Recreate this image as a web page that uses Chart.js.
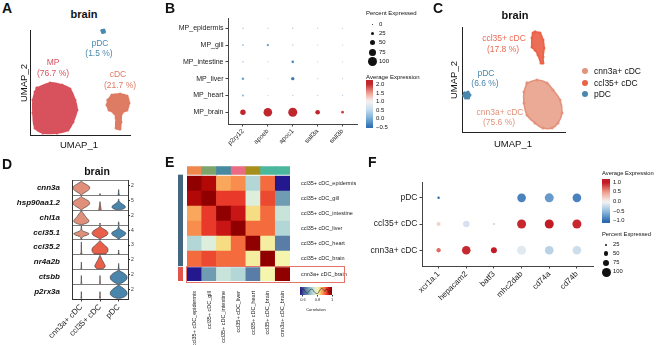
<!DOCTYPE html>
<html><head><meta charset="utf-8">
<script src="https://cdn.jsdelivr.net/npm/chart.js@4.4.1/dist/chart.umd.min.js"></script>
<style>
html,body{margin:0;padding:0;background:#fff;}
#root{position:relative;width:657px;height:345px;overflow:hidden;font-family:"Liberation Sans",Arial,Helvetica,sans-serif;color:#111;background:#fff;}
canvas{position:absolute;}
.t{position:absolute;white-space:nowrap;line-height:1;}
.box{position:absolute;box-sizing:border-box;}
</style></head><body><div id="root"></div>
<script>
// ================= DATA =================
// Panel A (UMAP, brain): cluster outlines in UMAP units
const A_MP = [[-4.6,1.4],[-2.0,2.4],[0.4,2.0],[2.0,1.2],[3.0,-1.0],[3.4,-3.0],[2.6,-5.4],[1.6,-7.0],[-0.6,-7.6],[-3.4,-7.6],[-5.0,-6.6],[-5.4,-3.6],[-5.4,-1.0],[-5.0,0.6]];
const A_CDC = [[9.6,-1.0],[10.4,0.0],[12.0,0.2],[13.4,-0.2],[13.8,-1.6],[13.4,-3.0],[12.4,-3.6],[12.2,-5.4],[12.0,-6.8],[11.2,-6.6],[11.2,-4.6],[10.8,-3.6],[9.8,-3.0],[9.4,-2.0]];
const A_PDC = [[8.4,12.9],[8.8,13.0],[8.9,12.6],[8.5,12.5]];
const A_LABELS = [['MP','(76.7 %)'],['pDC','(1.5 %)'],['cDC','(21.7 %)']];

// Panel B (dot plot)
const B_ROWS = ['MP_epidermis','MP_gill','MP_intestine','MP_liver','MP_heart','MP_brain'];
const B_GENES = ['p2ry12','apoeb','apoc1','sall3a','sall3b'];
const B_PCT = [
  [8,5,6,4,3],
  [10,15,8,4,3],
  [8,6,20,4,3],
  [18,4,30,4,3],
  [14,4,6,4,3],
  [55,95,100,45,22]
];
const B_AVG = [
  [0.3,0.4,0.3,0.4,0.4],
  [0.2,-0.2,0.4,0.4,0.4],
  [0.3,0.5,-0.3,0.4,0.4],
  [-0.1,0.6,-0.4,0.4,0.4],
  [0.1,0.5,0.4,0.4,0.4],
  [2.0,2.0,2.0,2.0,1.9]
];
const B_PCT_BREAKS = [0,25,50,75,100];
const B_AVG_BREAKS = [2.0,1.5,1.0,0.5,0.0,-0.5];

// Panel C (UMAP, brain cDC/pDC)
const C_CCL = [[14.6,20.0],[15.6,19.8],[16.2,18.4],[16.4,16.8],[16.2,15.0],[16.2,13.8],[15.8,13.8],[15.2,15.4],[14.6,16.4],[14.0,17.0],[14.0,18.8],[14.2,19.8]];
const C_CNN = [[13.0,9.8],[15.0,10.4],[17.0,9.8],[18.2,8.4],[19.6,6.4],[20.0,3.8],[19.2,1.8],[18.0,0.8],[16.2,0.8],[14.6,1.8],[13.0,3.4],[12.4,5.8],[12.4,8.0]];
const C_PDC = [[0.5,7.8],[1.2,8.0],[1.6,7.4],[1.3,6.8],[0.7,6.8],[0.3,7.3]];
const C_CLUSTERS = ['cnn3a+ cDC','ccl35+ cDC','pDC'];

// Panel D (stacked violins): half-widths at 11 heights (bottom->top) per gene x cluster
const D_GENES = ['cnn3a','hsp90aa1.2','chl1a','ccl35.1','ccl35.2','nr4a2b','ctsbb','p2rx3a'];
const D_MAX = [2,5,2,4,3,2,2,2];
const D_W = [
  [[0.02,0.10,0.22,0.33,0.41,0.45,0.44,0.36,0.24,0.12,0.02],[0.03,0],[0.04,0.02,0.012,0.008,0]],
  [[0.03,0.12,0.25,0.36,0.43,0.45,0.42,0.33,0.20,0.08,0.01],[0.07,0.05,0.04,0.03,0.02,0.01,0],[0.14,0.32,0.36,0.32,0.22,0.12,0.05,0.01,0]],
  [[0.10,0.30,0.40,0.40,0.35,0.28,0.22,0.17,0.12,0.07,0.02],[0.03,0],[0.03,0.01,0]],
  [[0.02,0.03,0.10,0.30,0.42,0.30,0.10,0.03,0.02,0.01,0],[0.02,0.10,0.25,0.37,0.42,0.42,0.37,0.27,0.15,0.05,0.01],[0.02,0.08,0.20,0.32,0.38,0.36,0.25,0.12,0.05,0.02,0]],
  [[0.04,0.02,0.015,0.01,0.01,0.008,0.006,0.004,0.002,0],[0.30,0.38,0.42,0.43,0.42,0.38,0.30,0.22,0.14,0.06,0.01],[0.03,0.01,0.005,0]],
  [[0.03,0.015,0.01,0.008,0.005,0],[0.15,0.25,0.28,0.26,0.22,0.18,0.14,0.10,0.07,0.04,0.01],[0.03,0.015,0.01,0.005,0]],
  [[0.03,0.015,0.01,0.008,0.006,0.004,0],[0.03,0.015,0.01,0.008,0.006,0.004,0],[0.10,0.25,0.35,0.42,0.45,0.45,0.42,0.35,0.25,0.12,0.02]],
  [[0.03,0.015,0.01,0.008,0.005,0],[0.03,0.015,0.01,0.008,0.005,0],[0.10,0.30,0.40,0.45,0.45,0.43,0.38,0.30,0.20,0.10,0.02]]
];

// Panel E (correlation heatmap)
const E_NAMES = ['ccl35+ cDC_epidermis','ccl35+ cDC_gill','ccl35+ cDC_intestine','ccl35+ cDC_liver','ccl35+ cDC_heart','ccl35+ cDC_brain','cnn3a+ cDC_brain'];
const E_CORR = [
  [1.00,0.97,0.86,0.88,0.73,0.90,0.56],
  [0.97,1.00,0.93,0.93,0.77,0.92,0.67],
  [0.86,0.93,1.00,0.95,0.83,0.90,0.75],
  [0.88,0.93,0.95,1.00,0.90,0.90,0.73],
  [0.73,0.77,0.83,0.90,1.00,0.81,0.64],
  [0.90,0.92,0.90,0.90,0.81,1.00,0.80],
  [0.56,0.67,0.75,0.73,0.64,0.80,1.00]
];
const E_TISSUE_COL = ['#f0884e','#7da46a','#458a9e','#ea6b82','#a6901b','#4bb79d','#4bb79d'];
const E_CELLTYPE_COL = ['#44667f','#44667f','#44667f','#44667f','#44667f','#44667f','#e0544b'];
const E_DENS_X = [0.56,0.60,0.63,0.66,0.70,0.73,0.76,0.80,0.83,0.86,0.90,0.93,0.96,1.00];
const E_DENS_Y = [1.0,3.5,2.0,1.0,3.0,3.2,1.5,0.8,2.5,3.8,2.2,3.5,1.5,2.5];
const E_BREAKS = [0.6,0.8,1];

// Panel F (dot plot)
const F_ROWS = ['pDC','ccl35+ cDC','cnn3a+ cDC'];
const F_GENES = ['xcr1a.1','hepacam2','batf3','mhc2dab','cd74a','cd74b'];
const F_PCT = [
  [27,10,10,96,100,96],
  [45,73,22,100,100,100],
  [48,95,66,100,96,96]
];
const F_AVG = [
  [-1.0,-0.2,-0.2,-0.85,-0.7,-0.85],
  [0.2,-0.15,-0.3,0.95,1.0,0.95],
  [0.7,0.95,1.0,-0.1,-0.3,-0.2]
];
const F_PCT_BREAKS = [25,50,75,100];
const F_AVG_BREAKS = [1.0,0.5,0.0,-0.5,-1.0];

// ================= HELPERS =================
const B_PAL = [[-0.5,'#2f6db2'],[0,'#79afd6'],[0.5,'#c5dcee'],[1.0,'#f7f3f3'],[1.5,'#f0998a'],[2.0,'#c0272d']];
const F_PAL = [[-1,'#2c6ab0'],[-0.5,'#8fbadd'],[0,'#f5f5f5'],[0.5,'#f0a08e'],[1.0,'#c21b24']];
const E_PAL = [[0.56,'#24188f'],[0.64,'#5a7da8'],[0.67,'#6f9bb3'],[0.73,'#b2d7d6'],[0.77,'#ddeedd'],[0.80,'#f5f5ad'],[0.83,'#f6dc82'],[0.86,'#f9a75c'],[0.88,'#f98d4d'],[0.90,'#f46b3d'],[0.93,'#e8392a'],[0.95,'#c81616'],[0.97,'#b30808'],[1.0,'#900000']];
function h2r(h){h=h.replace('#','');return [0,2,4].map(i=>parseInt(h.substr(i,2),16));}
function pal(st,v){
  if(v<=st[0][0]) return st[0][1];
  if(v>=st[st.length-1][0]) return st[st.length-1][1];
  for(let i=0;i<st.length-1;i++){
    if(v>=st[i][0]&&v<=st[i+1][0]){
      const t=(v-st[i][0])/(st[i+1][0]-st[i][0]);const a=h2r(st[i][1]),b=h2r(st[i+1][1]);
      return 'rgb('+a.map((x,k)=>Math.round(x+(b[k]-x)*t)).join(',')+')';
    }
  }
}
function grad(st,v0,v1,dir){const p=[];const N=24;for(let i=0;i<=N;i++){const v=v0+(v1-v0)*i/N;p.push(pal(st,v)+' '+(i*100/N).toFixed(2)+'%');}return 'linear-gradient('+dir+','+p.join(',')+')';}
const rB = p => 0.5 + 4.0*p/100;
const rF = p => 4.5*p/100;

const root=document.getElementById('root');
function txt(s,x,y,o={}){
  const d=document.createElement('div');d.className='t';d.textContent=s;
  d.style.fontSize=(o.size||8)+'px';
  if(o.bold)d.style.fontWeight='bold';
  if(o.italic)d.style.fontStyle='italic';
  d.style.color=o.color||'#111';
  d.style.left=x+'px';d.style.top=y+'px';
  const ax=o.anchor==='left'?'0%':(o.anchor==='right'?'-100%':'-50%');
  let tr='translate('+ax+',-50%)';
  if(o.rot)tr+=' rotate('+o.rot+'deg)';
  d.style.transform=tr;root.appendChild(d);return d;
}
function box(x,y,w,h,css){const d=document.createElement('div');d.className='box';d.style.left=x+'px';d.style.top=y+'px';d.style.width=w+'px';d.style.height=h+'px';Object.assign(d.style,css||{});root.appendChild(d);return d;}
function mk(x,y,w,h){const c=document.createElement('canvas');c.width=w;c.height=h;c.style.left=x+'px';c.style.top=y+'px';c.style.width=w+'px';c.style.height=h+'px';root.appendChild(c);return c.getContext('2d');}
Chart.defaults.font.family='"Liberation Sans", Arial, Helvetica, sans-serif';
Chart.defaults.color='#222';
const BASE={responsive:false,animation:false,devicePixelRatio:1,events:[],plugins:{legend:{display:false},tooltip:{enabled:false}}};
const pts=a=>a.map(p=>({x:p[0],y:p[1]}));
const closed=a=>{const q=pts(a);q.push(q[0]);return q;};
function hull(a,col,fillCol){return {data:closed(a),showLine:true,fill:'shape',backgroundColor:fillCol||col,borderColor:col,borderWidth:1.6,tension:0.35,pointRadius:1.5,pointBackgroundColor:col,pointBorderWidth:0,clip:false};}
function umap(ctx,xr,yr,ds){
  return new Chart(ctx,{type:'scatter',data:{datasets:ds},options:Object.assign({},BASE,{layout:{padding:6},scales:{
    x:{type:'linear',min:xr[0],max:xr[1],ticks:{display:false},grid:{display:false},border:{display:true,color:'#222',width:1},afterFit:s=>{s.height=0;}},
    y:{type:'linear',min:yr[0],max:yr[1],ticks:{display:false},grid:{display:false},border:{display:true,color:'#222',width:1},afterFit:s=>{s.width=0;}}
  }})});
}

// ================= PANEL A =================
umap(mk(24,24,112,117),[-6,14],[-8,13],[
  hull(A_MP,'#d8525e'),hull(A_CDC,'#dd7b63'),hull(A_PDC,'#4a8ab0')
]);
txt('A',2,8,{size:14,bold:true,anchor:'left'});
txt('brain',84,14,{size:11,bold:true});
txt('UMAP_2',24,83,{size:9.5,rot:-90});
txt('UMAP_1',79,145,{size:9.5});
txt(A_LABELS[0][0],53,62,{size:8.5,color:'#d8525e'});txt(A_LABELS[0][1],53,73,{size:8.5,color:'#d8525e'});
txt(A_LABELS[1][0],100,43,{size:8.5,color:'#4a8ab0'});txt(A_LABELS[1][1],99,53,{size:8.5,color:'#4a8ab0'});
txt(A_LABELS[2][0],118,74,{size:8.5,color:'#dd7b63'});txt(A_LABELS[2][1],120,85,{size:8.5,color:'#dd7b63'});

// ================= PANEL B =================
function dotplot(ctx,rows,genes,pct,avg,rf,palSt,o){
  const n=rows.length;const data=[],cols=[];
  rows.forEach((r,i)=>genes.forEach((g,j)=>{data.push({x:j,y:n-1-i,r:rf(pct[i][j])});cols.push(pal(palSt,avg[i][j]));}));
  return new Chart(ctx,{type:'bubble',data:{datasets:[{data,backgroundColor:cols,borderWidth:0,clip:false}]},options:Object.assign({},BASE,{layout:{padding:o.pad},scales:{
    x:{type:'linear',min:-0.6,max:genes.length-0.4,afterBuildTicks:s=>{s.ticks=genes.map((g,i)=>({value:i}));},
      ticks:{callback:v=>genes[v],autoSkip:false,minRotation:45,maxRotation:45,font:{size:o.xf},color:'#222',padding:1},
      grid:{display:true,drawOnChartArea:false,drawTicks:true,tickLength:2.5,color:'#444'},border:{display:true,color:'#444',width:1},afterFit:s=>{s.height=o.xh;}},
    y:{type:'linear',min:o.ymin,max:o.ymax,afterBuildTicks:s=>{s.ticks=rows.map((r,i)=>({value:i}));},
      ticks:{callback:v=>rows[n-1-v],autoSkip:false,font:{size:o.yf},color:'#222',padding:2},
      grid:{display:true,drawOnChartArea:false,drawTicks:true,tickLength:2.5,color:'#444'},border:{display:true,color:'#444',width:1},afterFit:s=>{s.width=o.yw;}}
  }})});
}
dotplot(mk(140,12,222,140),B_ROWS,B_GENES,B_PCT,B_AVG,rB,B_PAL,{pad:{top:5,right:4,left:0,bottom:0},xf:6.5,xh:28,yf:7,yw:88,ymin:-0.7,ymax:5.6});
txt('B',165,8,{size:14,bold:true,anchor:'left'});
txt('Percent Expressed',366,13,{size:6,anchor:'left'});
[24,33,42,52,61].forEach((y,i)=>{const r=rB(B_PCT_BREAKS[i]);box(372-r,y-r,2*r,2*r,{background:'#111',borderRadius:'50%'});txt(String(B_PCT_BREAKS[i]),379,y,{size:6,anchor:'left'});});
txt('Average Expression',366,77,{size:6,anchor:'left'});
box(366,80,7,48,{background:grad(B_PAL,2.23,-0.56,'to bottom')});
B_AVG_BREAKS.forEach(v=>txt(v<0?'\u2212'+Math.abs(v).toFixed(1):v.toFixed(1),376,84+(2-v)*17.2,{size:6,anchor:'left'}));

// ================= PANEL C =================
umap(mk(456,21,115,117),[0,20.6],[0,21],[
  hull(C_CNN,'#e3937b','rgba(230,155,130,0.85)'),hull(C_CCL,'#ea6248','rgba(234,98,72,0.92)'),hull(C_PDC,'#4a86ad')
]);
txt('C',433,8,{size:14,bold:true,anchor:'left'});
txt('brain',515,15,{size:11,bold:true});
txt('UMAP_2',454,80,{size:9.5,rot:-90});
txt('UMAP_1',513,144,{size:9.5});
txt(C_CLUSTERS[1],504,38,{size:8.5,color:'#ea6a52'});txt('(17.8 %)',503,49,{size:8.5,color:'#ea6a52'});
txt(C_CLUSTERS[2],486,73,{size:8.5,color:'#4a86ad'});txt('(6.6 %)',485,83,{size:8.5,color:'#4a86ad'});
txt(C_CLUSTERS[0],500,112,{size:8.5,color:'#e3937b'});txt('(75.6 %)',499,122,{size:8.5,color:'#e3937b'});
const C_COLS=['#e3937b','#ea6248','#4a86ad'];
[71,82.5,94].forEach((y,i)=>{box(582,y-3,6,6,{background:C_COLS[i],borderRadius:'50%'});txt(C_CLUSTERS[i],594,y,{size:8.5,anchor:'left'});});

// ================= PANEL D =================
const D_COLS=['#e0907a','#e8604a','#4a85ac'];
function violin(c,rowTop,w){
  let last=w.length-1;while(last>0&&w[last]===0)last--;
  const n=Math.min(last+1,w.length-1);const yb=D_GENES.length-1-rowTop;const p=[];
  for(let k=0;k<=n;k++)p.push({x:c+w[k],y:yb+0.05+0.9*k/10});
  for(let k=n;k>=0;k--)p.push({x:c-w[k],y:yb+0.05+0.9*k/10});
  p.push(p[0]);return p;
}
const dDs=[];
D_W.forEach((row,r)=>row.forEach((w,c)=>dDs.push({data:violin(c+1,r,w),showLine:true,fill:'shape',backgroundColor:D_COLS[c],borderColor:'#333',borderWidth:0.6,pointRadius:0,tension:0.25})));
const NG=D_GENES.length;
new Chart(mk(0,172,145,173),{type:'scatter',data:{datasets:dDs},options:Object.assign({},BASE,{layout:{padding:{top:5,left:0,right:0,bottom:0}},scales:{
  x:{type:'linear',min:0.5,max:3.5,afterBuildTicks:s=>{s.ticks=C_CLUSTERS.map((g,i)=>({value:i+1}));},
    ticks:{callback:v=>C_CLUSTERS[v-1],autoSkip:false,minRotation:45,maxRotation:45,font:{size:8},color:'#222',padding:1},
    grid:{display:true,drawOnChartArea:false,drawTicks:true,tickLength:2.5,color:'#333'},border:{display:true,color:'#333',width:1},afterFit:s=>{s.height=46;}},
  y:{type:'linear',position:'left',min:0,max:NG,afterBuildTicks:s=>{s.ticks=D_GENES.map((g,i)=>({value:NG-1-i+0.5}));},
    ticks:{callback:(v,i)=>D_GENES[i],autoSkip:false,font:{size:8,weight:'bold',style:'italic'},color:'#111',padding:4},
    grid:{display:false},border:{display:true,color:'#333',width:1},afterFit:s=>{s.width=72;}},
  ysep:{type:'linear',position:'left',min:0,max:NG,afterBuildTicks:s=>{const t=[];for(let i=0;i<=NG;i++)t.push({value:i});s.ticks=t;},
    ticks:{display:false},grid:{display:true,drawOnChartArea:true,drawTicks:false,color:'#444',lineWidth:0.7},border:{display:false},afterFit:s=>{s.width=0;}},
  y2:{type:'linear',position:'right',min:0,max:NG,afterBuildTicks:s=>{s.ticks=D_GENES.map((g,i)=>({value:NG-1-i+0.65}));},
    ticks:{callback:(v,i)=>String(D_MAX[i]),autoSkip:false,font:{size:5},color:'#333',padding:1},
    grid:{display:true,drawOnChartArea:false,drawTicks:true,tickLength:2,color:'#333'},border:{display:true,color:'#333',width:1},afterFit:s=>{s.width=17;}}
}})});
txt('D',2,164,{size:14,bold:true,anchor:'left'});
txt('brain',97,171,{size:10.5,bold:true});

// ================= PANEL E =================
const EMAX=7.66;
const hDs=[];
const bopt={borderWidth:0,barPercentage:1,categoryPercentage:1,stack:'s'};
hDs.push(Object.assign({data:E_NAMES.map(()=>0.9),backgroundColor:E_CORR[6].map(v=>pal(E_PAL,v))},bopt));
hDs.push(Object.assign({data:E_NAMES.map(()=>0.1),backgroundColor:'rgba(0,0,0,0)'},bopt));
for(let i=5;i>=0;i--)hDs.push(Object.assign({data:E_NAMES.map(()=>1),backgroundColor:E_CORR[i].map(v=>pal(E_PAL,v))},bopt));
hDs.push(Object.assign({data:E_NAMES.map(()=>0.11),backgroundColor:'rgba(0,0,0,0)'},bopt));
hDs.push(Object.assign({data:E_NAMES.map(()=>0.55),backgroundColor:E_TISSUE_COL},bopt));
const E_POS=[6.5,5.5,4.5,3.5,2.5,1.5,0.45];
new Chart(mk(185,160,172,185),{type:'bar',data:{labels:E_NAMES,datasets:hDs},options:Object.assign({},BASE,{layout:{padding:{left:2,top:5,right:0,bottom:0}},scales:{
  x:{stacked:true,grid:{display:false},border:{display:false},ticks:{autoSkip:false,minRotation:90,maxRotation:90,font:{size:5.5},color:'#222',padding:2},afterFit:s=>{s.height=64;}},
  y:{stacked:true,display:false,min:0,max:EMAX},
  y2:{type:'linear',position:'right',min:0,max:EMAX,afterBuildTicks:s=>{s.ticks=E_POS.map(v=>({value:v}));},
    ticks:{callback:(v,i)=>E_NAMES[i],autoSkip:false,font:{size:5.5},color:'#222',padding:3},grid:{display:false},border:{display:false},afterFit:s=>{s.width=67;}}
}})});
// row annotation (cell type)
const aDs=[
  Object.assign({data:[0.9],backgroundColor:E_CELLTYPE_COL[6]},bopt),
  Object.assign({data:[0.1],backgroundColor:'rgba(0,0,0,0)'},bopt),
  Object.assign({data:[6],backgroundColor:E_CELLTYPE_COL[0]},bopt)
];
new Chart(mk(174,160,12,185),{type:'bar',data:{labels:['celltype'],datasets:aDs},options:Object.assign({},BASE,{layout:{padding:{left:4,right:3,top:5,bottom:64}},scales:{
  x:{stacked:true,display:false},y:{stacked:true,display:false,min:0,max:EMAX}}})});
box(186,266,159,17,{border:'1px solid #e57368'});
txt('E',165,162,{size:14,bold:true,anchor:'left'});
// correlation colour key
box(300,287,32,8,{background:grad(E_PAL,0.56,1.0,'to right')});
new Chart(mk(292,284,44,28),{type:'scatter',data:{datasets:[{data:E_DENS_X.map((x,i)=>({x,y:E_DENS_Y[i]})),showLine:true,borderColor:'#222',borderWidth:0.6,pointRadius:0,tension:0.3,fill:false}]},
  options:Object.assign({},BASE,{layout:{padding:{left:8,right:4,top:3,bottom:0}},scales:{
  x:{type:'linear',min:0.56,max:1.0,afterBuildTicks:s=>{s.ticks=E_BREAKS.map(v=>({value:v}));},ticks:{callback:v=>v===1?'1':v.toFixed(1),font:{size:4},color:'#333',padding:1},
    grid:{display:true,drawOnChartArea:false,drawTicks:true,tickLength:1.5,color:'#333'},border:{display:false},title:{display:true,text:'Correlation',font:{size:4},padding:0},afterFit:s=>{s.height=17;}},
  y:{display:false,min:0,max:4.5}}})});

// ================= PANEL F =================
dotplot(mk(360,175,238,135),F_ROWS,F_GENES,F_PCT,F_AVG,rF,F_PAL,{pad:{top:7,right:4,left:0,bottom:0},xf:8,xh:44,yf:8.5,yw:62,ymin:-0.6,ymax:2.6});
txt('F',368,162,{size:14,bold:true,anchor:'left'});
txt('Average Expression',602,174,{size:5.8,anchor:'left'});
box(602,179,8,44,{background:grad(F_PAL,1.19,-1.09,'to bottom')});
F_AVG_BREAKS.forEach(v=>txt(v<0?'\u2212'+Math.abs(v).toFixed(1):v.toFixed(1),613,182.7+(1-v)*19.25,{size:5.8,anchor:'left'}));
txt('Percent Expressed',602,235,{size:5.8,anchor:'left'});
[245,253.5,263,272].forEach((y,i)=>{const r=rF(F_PCT_BREAKS[i]);box(606-r,y-r,2*r,2*r,{background:'#111',borderRadius:'50%'});txt(String(F_PCT_BREAKS[i]),613,y,{size:5.8,anchor:'left'});});
</script></body></html>
